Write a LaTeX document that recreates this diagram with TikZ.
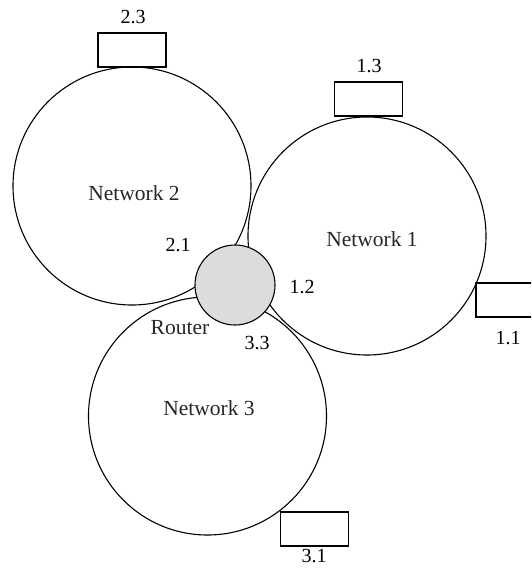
\documentclass[tikz,border=0pt]{standalone}
\usepackage{fontspec}
\setmainfont{Liberation Serif}
\begin{document}
\begin{tikzpicture}[x=1pt,y=-1pt,
  net/.style={circle,draw=black,line width=1.1pt,minimum size=238pt,inner sep=0pt},
  hostbox/.style={rectangle,draw=black,line width=1.1pt,fill=white,minimum width=68pt,minimum height=34pt,inner sep=0pt},
  routerc/.style={circle,draw=black,line width=1.1pt,fill=routergray,minimum size=80pt,inner sep=0pt},
  netlabel/.style={font=\fontsize{21.5}{24}\selectfont,text=black!85,inner sep=0pt},
  numlabel/.style={font=\fontsize{20}{22}\selectfont,inner sep=0pt}]
\definecolor{routergray}{HTML}{DCDCDC}
\path[use as bounding box] (0,0) rectangle (531,568);
\clip (0,0) rectangle (531,568);
% networks
\node[net] (n2) at (132,186) {};
\node[net] (n1) at (367,236) {};
\node[net] (n3) at (207.5,416) {};
% hosts
\node[hostbox] (h23) at (132,50) {};
\node[hostbox] (h13) at (368.5,99) {};
\node[hostbox] (h11) at (510,300) {};
\node[hostbox] (h31) at (314.5,529) {};
% router
\node[routerc] (r) at (235,285) {};
% labels
\node[netlabel] (ln2) at (134,193) {Network 2};
\node[netlabel] (ln1) at (372,239) {Network 1};
\node[netlabel] (ln3) at (209,408) {Network 3};
\node[netlabel] (lr) at (180,328) {Router};
\node[numlabel] (l23) at (133,17) {2.3};
\node[numlabel] (l13) at (369,66) {1.3};
\node[numlabel] (l11) at (508,338) {1.1};
\node[numlabel] (l31) at (314,556) {3.1};
\node[numlabel] (l21) at (178,245) {2.1};
\node[numlabel] (l12) at (302,287) {1.2};
\node[numlabel] (l33) at (257,343) {3.3};
\end{tikzpicture}
\end{document}
